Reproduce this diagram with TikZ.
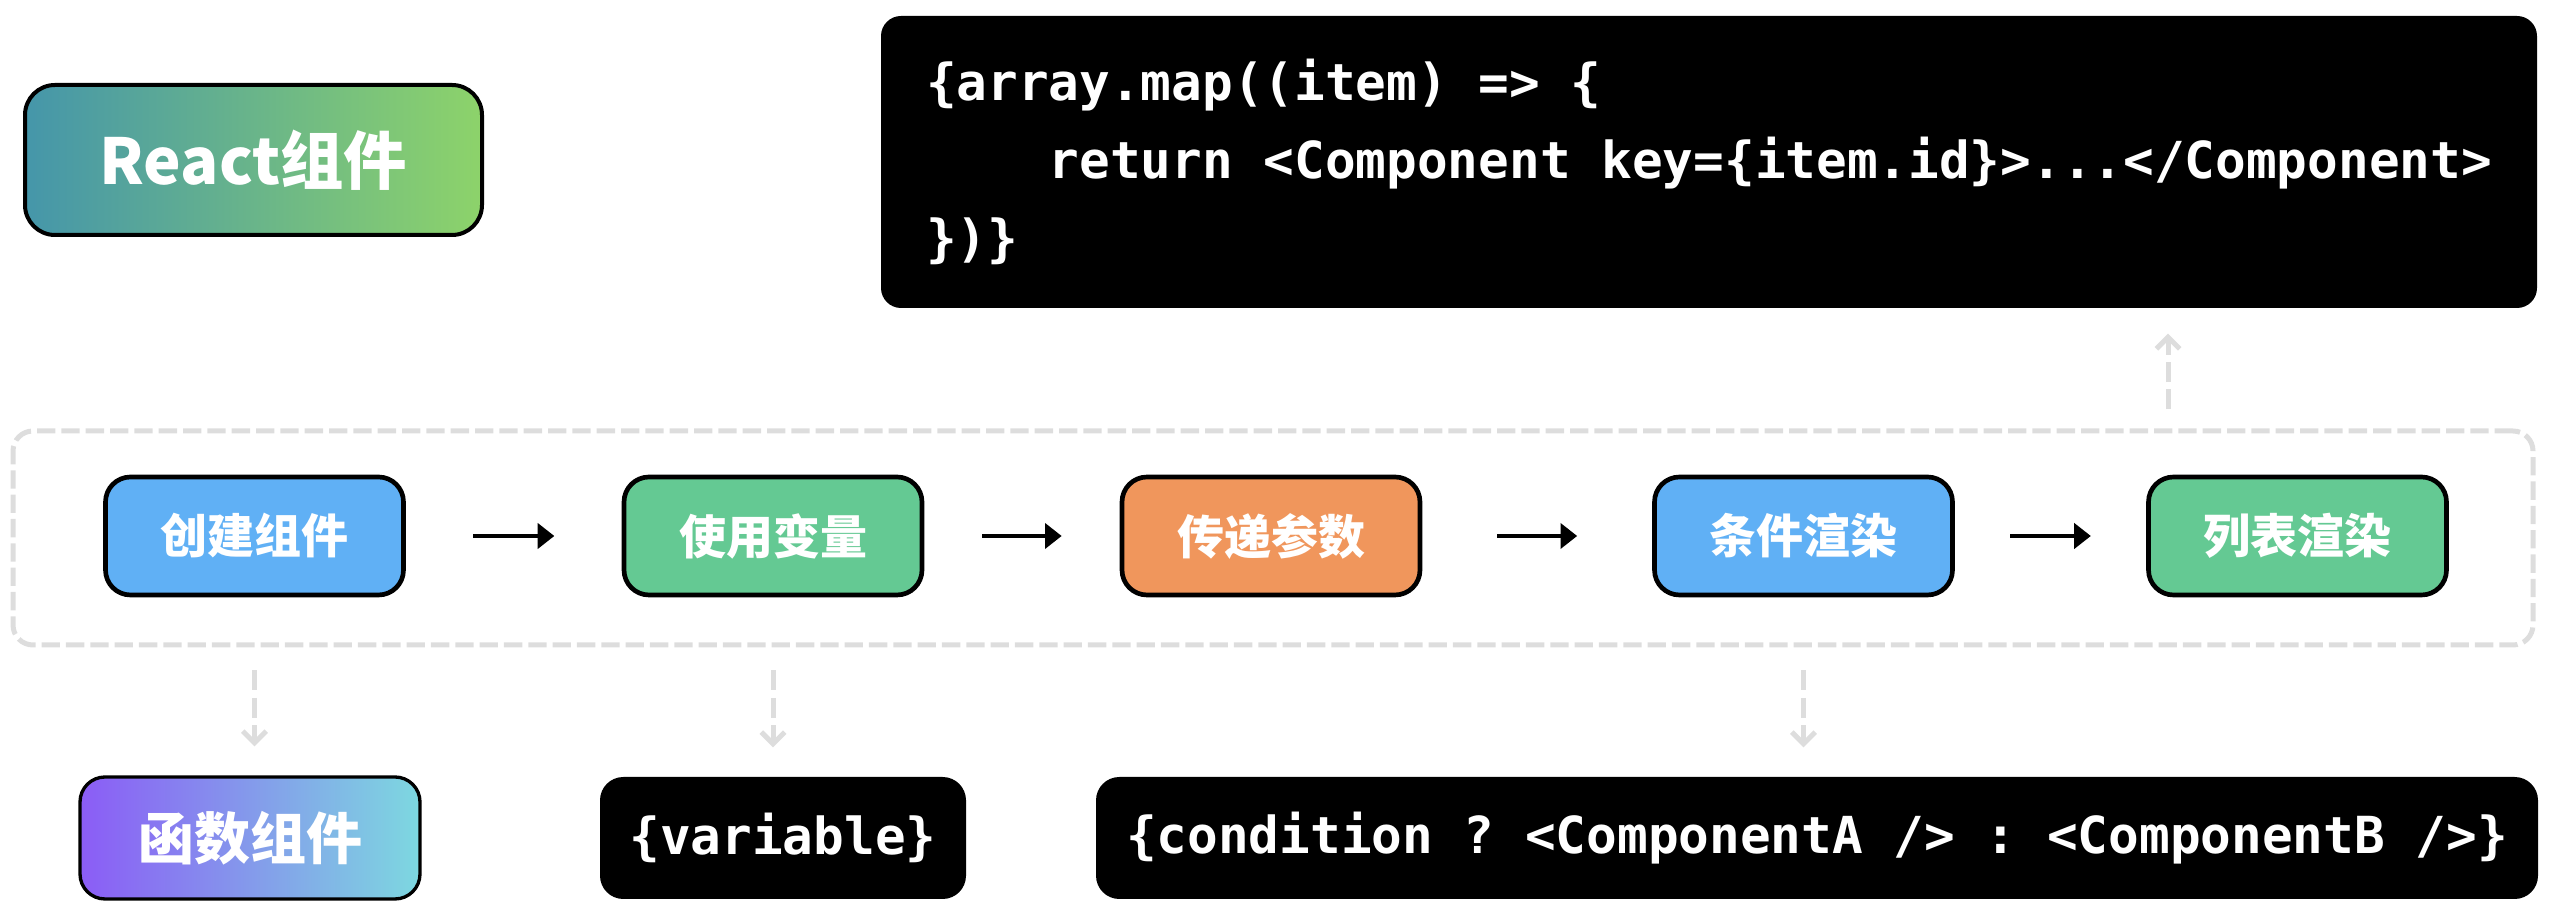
\documentclass[tikz,border=0pt]{standalone}
\usepackage{fontspec}
\setmonofont{DejaVu Sans Mono}
\newfontfamily\cjk{Noto Sans CJK SC}
\usetikzlibrary{arrows.meta}
\definecolor{stepblue}{HTML}{60B0F5}
\definecolor{stepgreen}{HTML}{64C993}
\definecolor{steporange}{HTML}{F0965C}
\definecolor{reactleft}{HTML}{4596AA}
\definecolor{reactright}{HTML}{8DD36A}
\definecolor{funcleft}{HTML}{8B5CF6}
\definecolor{funcright}{HTML}{7DD8E0}
\definecolor{hintgray}{HTML}{DDDDDD}

\begin{document}
\begin{tikzpicture}[x=0.3pt, y=-0.3pt,
    stepbox/.style={draw=black, line width=1.4pt, rounded corners=7.5pt, minimum width=89.4pt, minimum height=35.4pt, text=white, font=\cjk\bfseries\fontsize{14.1pt}{17pt}\selectfont},
    codebox/.style={fill=black, rounded corners=7pt, text=white, minimum height=36.6pt, font=\ttfamily\bfseries\fontsize{15.3pt}{23.4pt}\selectfont},
    flow/.style={line width=1.2pt, -{Triangle[length=5pt, width=7.5pt]}},
    hint/.style={draw=hintgray, line width=1.5pt, dash pattern=on 6pt off 2.2pt, -{Straight Barb[length=3.5pt, width=7pt]}}]
    \useasboundingbox (0,0) rectangle (2550,918);

    % dashed frame round the steps
    \node[draw=hintgray, line width=1.5pt, dash pattern=on 5.5pt off 1.8pt, rounded corners=6pt, minimum width=756pt, minimum height=64.2pt] (frame) at (1273,538) {};

    \node[draw=black, line width=1.2pt, rounded corners=9pt, left color=reactleft, right color=reactright, minimum width=137.1pt, minimum height=45pt, text=white, font=\cjk\bfseries\fontsize{19pt}{22pt}\selectfont] (react) at (253.5,160) {React组件};

    \node[codebox, align=left, minimum width=496.8pt, minimum height=87.6pt, rounded corners=6pt] (code) at (1709,162)
      {\{array.map((item) => \{\\\hphantom{0000}return <Component key=\{item.id\}>...</Component>\\\})\}};

    % steps
    \node[stepbox, fill=stepblue] (b1) at (254.5,536) {创建组件};
    \node[stepbox, fill=stepgreen] (b2) at (773,536) {使用变量};
    \node[stepbox, fill=steporange] (b3) at (1271,536) {传递参数};
    \node[stepbox, fill=stepblue] (b4) at (1803.5,536) {条件渲染};
    \node[stepbox, fill=stepgreen] (b5) at (2297.5,536) {列表渲染};
    \foreach \a/\b/\s in {b1/b2/20.2pt, b2/b3/17.4pt, b3/b4/22.5pt, b4/b5/16.6pt}
      \draw[flow, shorten <=\s, shorten >=\s] (\a) -- (\b);

    % what each step gives
    \node[draw=black, line width=1pt, rounded corners=7.5pt, left color=funcleft, right color=funcright, minimum width=102pt, minimum height=36.6pt, text=white, font=\cjk\bfseries\fontsize{16.8pt}{20pt}\selectfont] (func) at (250,838) {函数组件};
    \node[codebox, minimum width=109.8pt] (var) at (783,838) {\{variable\}};
    \node[codebox, minimum width=432.6pt] (cond) at (1817,838) {\{condition ? <ComponentA /> : <ComponentB />\}};

    \draw[hint, shorten <=6.9pt, shorten >=8.7pt] (frame.south -| b1) -- (func.north -| b1);
    \draw[hint, shorten <=6.9pt, shorten >=8.7pt] (frame.south -| b2) -- (var.north -| b2);
    \draw[hint, shorten <=6.9pt, shorten >=8.7pt] (frame.south -| b4) -- (cond.north -| b4);
    \coordinate (listx) at (2168,420);
    \draw[hint, shorten <=5.7pt, shorten >=7.5pt] (frame.north -| listx) -- (code.south -| listx);
\end{tikzpicture}
\end{document}
